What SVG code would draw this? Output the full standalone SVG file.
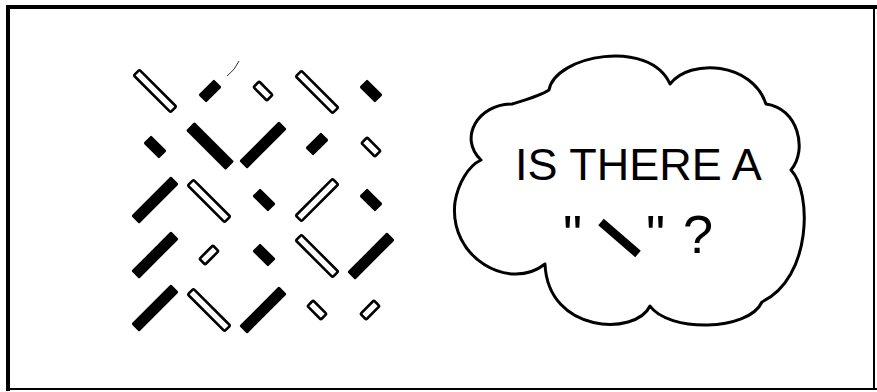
<svg xmlns="http://www.w3.org/2000/svg" width="877" height="392" viewBox="0 0 877 392">
<style>
.o{fill:#fff;stroke:#000;stroke-width:2.6}
.f{fill:#000}
.frame{stroke:#000;fill:none}
.t{font-family:"Liberation Sans",Arial,sans-serif;font-size:45px;fill:#000}
.t2{font-family:"Liberation Sans",Arial,sans-serif;font-size:54px;fill:#000}
</style>
<rect width="877" height="392" fill="#fff"/>
<g id="frame">
<line class="frame" x1="6" y1="7" x2="877" y2="7" stroke-width="4"/>
<line class="frame" x1="8" y1="5" x2="8" y2="391" stroke-width="4"/>
<line class="frame" x1="8" y1="389" x2="877" y2="389" stroke-width="2"/>
<line class="frame" x1="874" y1="7" x2="874" y2="390" stroke-width="2"/>
</g>
<g id="bars">
<g id="r1">
<rect class="o" x="-26" y="-4" width="52" height="8" rx="1.5" transform="translate(155,91) rotate(45)"/>
<rect class="f" x="-11" y="-5.5" width="22" height="11" rx="1.5" transform="translate(210,91) rotate(-45)"/>
<rect class="o" x="-9.5" y="-4" width="19" height="8" rx="1.5" transform="translate(263,91) rotate(45)"/>
<rect class="o" x="-26" y="-4" width="52" height="8" rx="1.5" transform="translate(317,92) rotate(45)"/>
<rect class="f" x="-11" y="-5.5" width="22" height="11" rx="1.5" transform="translate(371,91) rotate(45)"/>
</g>
<g id="r2">
<rect class="f" x="-11" y="-5.5" width="22" height="11" rx="1.5" transform="translate(155,147) rotate(45)"/>
<rect class="f" x="-28" y="-6" width="56" height="12" rx="1.5" transform="translate(210,146) rotate(45)"/>
<rect class="f" x="-28" y="-5.5" width="56" height="11" rx="1.5" transform="translate(263,145) rotate(-45)"/>
<rect class="f" x="-11" y="-5.5" width="22" height="11" rx="1.5" transform="translate(317,144) rotate(-45)"/>
<rect class="o" x="-9.5" y="-4" width="19" height="8" rx="1.5" transform="translate(371,147) rotate(45)"/>
</g>
<g id="r3">
<rect class="f" x="-28" y="-5.5" width="56" height="11" rx="1.5" transform="translate(155,200) rotate(-45)"/>
<rect class="o" x="-26" y="-4" width="52" height="8" rx="1.5" transform="translate(209,201) rotate(45)"/>
<rect class="f" x="-11" y="-5.5" width="22" height="11" rx="1.5" transform="translate(264,200) rotate(45)"/>
<rect class="o" x="-26" y="-4" width="52" height="8" rx="1.5" transform="translate(317,200) rotate(-45)"/>
<rect class="f" x="-11" y="-5.5" width="22" height="11" rx="1.5" transform="translate(371,200) rotate(45)"/>
</g>
<g id="r4">
<rect class="f" x="-28" y="-5.5" width="56" height="11" rx="1.5" transform="translate(155,255) rotate(-45)"/>
<rect class="o" x="-9.5" y="-4" width="19" height="8" rx="1.5" transform="translate(209,255) rotate(-45)"/>
<rect class="f" x="-11" y="-5.5" width="22" height="11" rx="1.5" transform="translate(264,255) rotate(45)"/>
<rect class="o" x="-26" y="-4" width="52" height="8" rx="1.5" transform="translate(317,256) rotate(45)"/>
<rect class="f" x="-28" y="-5.5" width="56" height="11" rx="1.5" transform="translate(371,256) rotate(-45)"/>
</g>
<g id="r5">
<rect class="f" x="-28" y="-5.5" width="56" height="11" rx="1.5" transform="translate(155,308) rotate(-45)"/>
<rect class="o" x="-26" y="-4" width="52" height="8" rx="1.5" transform="translate(209,310) rotate(45)"/>
<rect class="f" x="-28" y="-5.5" width="56" height="11" rx="1.5" transform="translate(263,310) rotate(-45)"/>
<rect class="o" x="-9.5" y="-4" width="19" height="8" rx="1.5" transform="translate(317,310) rotate(45)"/>
<rect class="o" x="-9.5" y="-4" width="19" height="8" rx="1.5" transform="translate(370,310) rotate(-45)"/>
</g>
<path d="M227 76 Q235 70 239 61" fill="none" stroke="#000" stroke-width="0.8"/>
</g>
<g id="cloud">
<path d="M481 160 C458 138 478 104 512 104 C525 100 540 96 549 90 C555 55 650 38 670 84 C690 58 752 62 766 104 C798 108 808 150 791 170 C812 192 812 278 762 302 C748 332 668 332 650 306 C636 336 548 334 545 264 C510 292 448 258 455 202 C458 184 468 166 481 160 Z" fill="#fff" stroke="#000" stroke-width="3" stroke-linejoin="round"/>
<text class="t" x="515" y="180">IS THERE A</text>
<text class="t2" x="563" y="253">"</text>
<line x1="601" y1="222" x2="638" y2="254" stroke="#000" stroke-width="8.5"/>
<text class="t2" x="646" y="253">"</text>
<text class="t2" x="683" y="253">?</text>
</g>
</svg>
